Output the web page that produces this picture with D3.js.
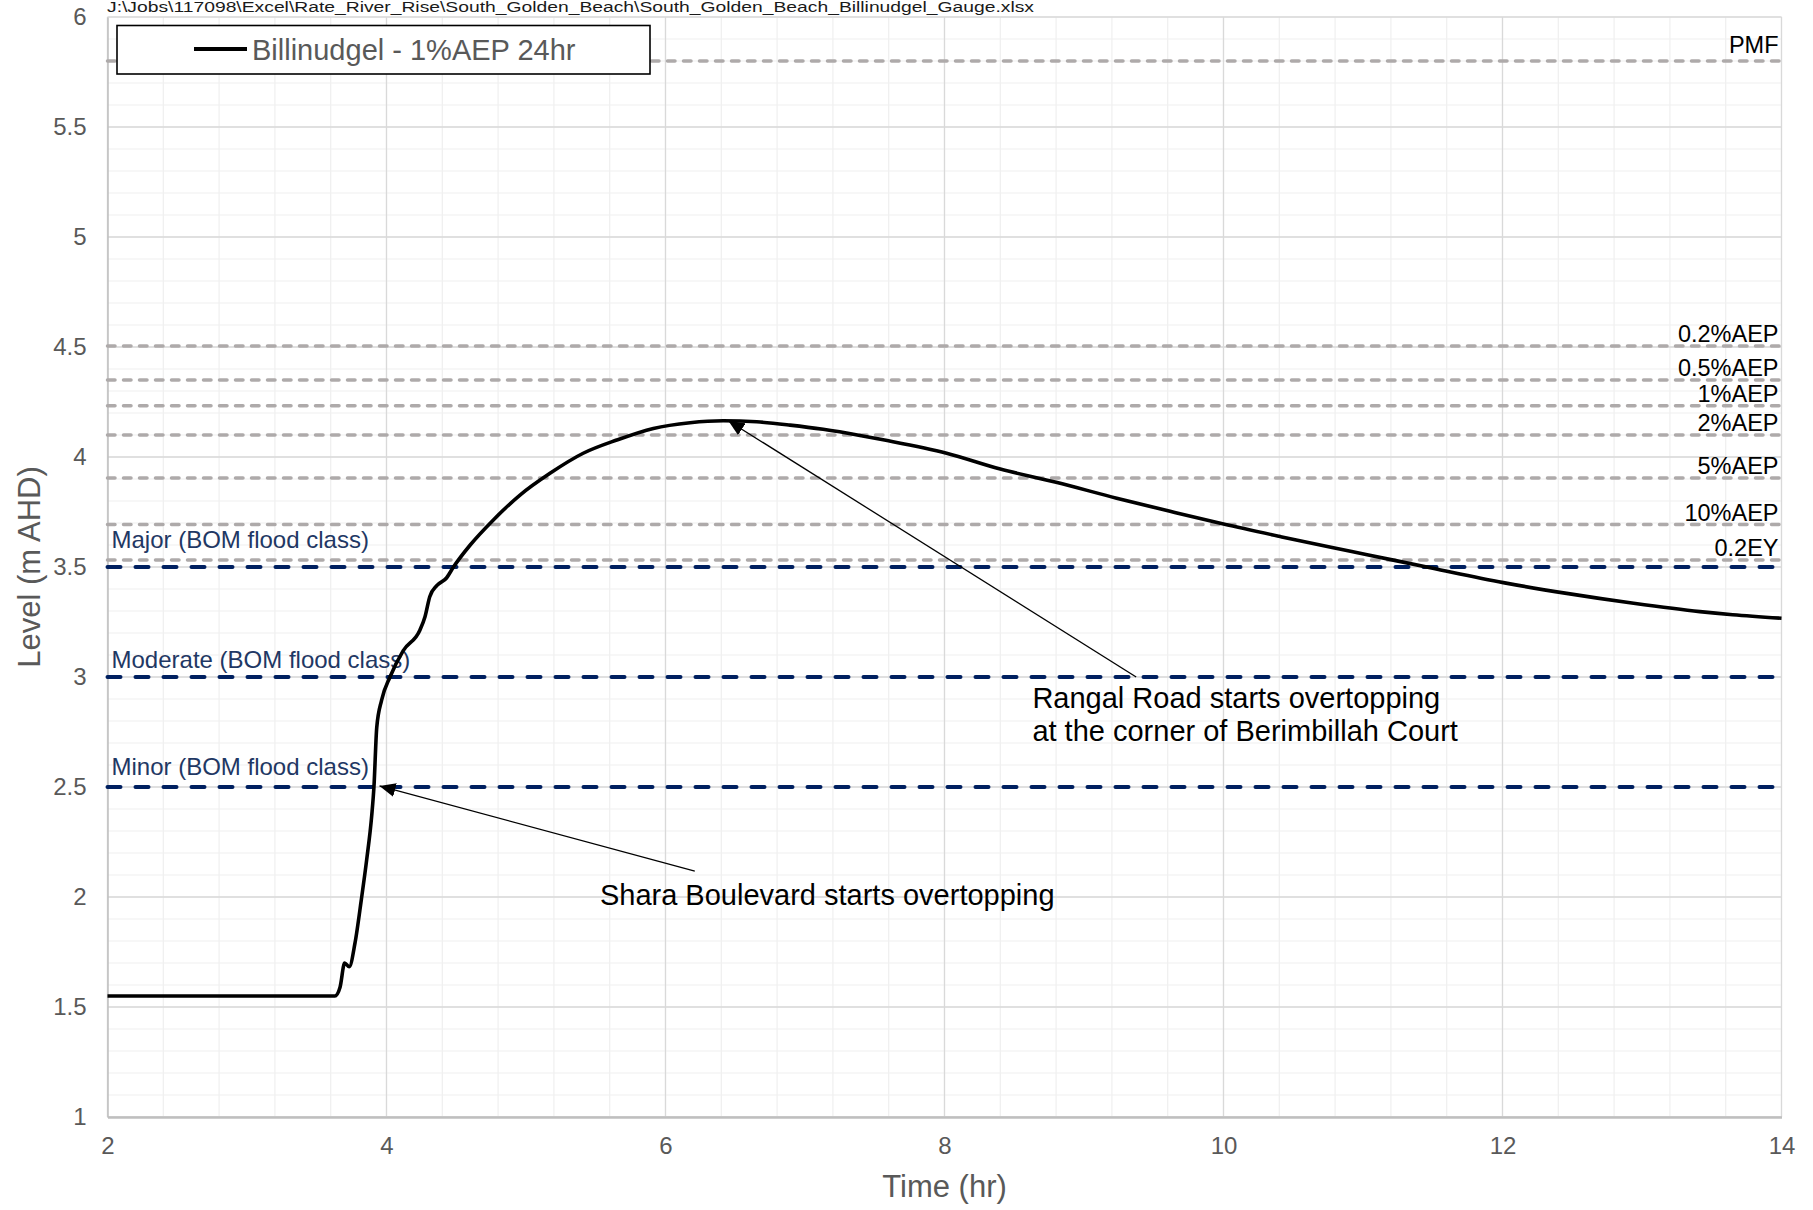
<!DOCTYPE html>
<html>
<head>
<meta charset="utf-8">
<script src="https://cdn.jsdelivr.net/npm/d3@7"></script>
<style>
  body { margin: 0; background: #fff; }
  svg { display: block; font-family: "Liberation Sans", Arial, sans-serif; }
</style>
</head>
<body>
<div id="chart"></div>
<script>
// Hydrograph (time in hr, level in m AHD)
const TIME_HR = [2.0, 3.63, 3.667, 3.70, 3.733, 3.774, 3.82, 3.858, 3.894, 3.91, 3.93, 3.965,
  4.025, 4.12, 4.24, 4.276, 4.31, 4.36, 4.43, 4.48, 4.60, 4.766, 4.957, 5.172, 5.41, 5.65,
  5.913, 6.176, 6.414, 6.654, 6.893, 7.13, 7.394, 7.56, 8.015, 8.40, 8.80, 9.234, 9.617,
  10.0, 10.41, 10.77, 11.03, 11.50, 12.006, 12.46, 12.94, 13.415, 13.65, 14.0];
const LEVEL_M = [1.55, 1.55, 1.59, 1.70, 1.683, 1.79, 1.99, 2.17, 2.37, 2.50, 2.77, 2.895,
  3.00, 3.12, 3.214, 3.274, 3.365, 3.415, 3.45, 3.50, 3.60, 3.714, 3.827, 3.926, 4.017, 4.077,
  4.13, 4.156, 4.165, 4.16, 4.145, 4.126, 4.098, 4.078, 4.017, 3.945, 3.885, 3.813, 3.753,
  3.695, 3.638, 3.59, 3.556, 3.494, 3.429, 3.38, 3.335, 3.297, 3.283, 3.267];

// Design flood levels (grey dashed)
const DESIGN_LABELS = ["PMF", "0.2%AEP", "0.5%AEP", "1%AEP", "2%AEP", "5%AEP", "10%AEP", "0.2EY"];
const DESIGN_LEVELS = [5.8, 4.505, 4.35, 4.233, 4.10, 3.904, 3.693, 3.532];

// BOM flood classes (navy dashed)
const BOM_LABELS = ["Major (BOM flood class)", "Moderate (BOM flood class)", "Minor (BOM flood class)"];
const BOM_LEVELS = [3.5, 3.0, 2.5];

const X_TICKS = [2, 4, 6, 8, 10, 12, 14];
const Y_TICKS = [1, 1.5, 2, 2.5, 3, 3.5, 4, 4.5, 5, 5.5, 6];

// Annotations: text anchor and arrow (from -> to) in data units
const NOTE_TEXTS = [
  ["Rangal Road starts overtopping", "at the corner of Berimbillah Court"],
  ["Shara Boulevard starts overtopping"]
];
const NOTE_TEXT_AT = [[8.63, 2.859], [5.53, 1.964]];
const NOTE_ARROW_FROM = [[9.374, 3.0], [6.21, 2.118]];
const NOTE_ARROW_TO = [[6.45, 4.165], [3.95, 2.505]];

const FILE_PATH = "J:\\Jobs\\117098\\Excel\\Rate_River_Rise\\South_Golden_Beach\\South_Golden_Beach_Billinudgel_Gauge.xlsx";
const SERIES_NAME = "Billinudgel - 1%AEP 24hr";

const WIDTH = 1813, HEIGHT = 1210;
const PLOT = { left: 107.5, right: 1781.5, top: 17, bottom: 1117 };

const svg = d3.select("#chart").append("svg")
  .attr("width", WIDTH).attr("height", HEIGHT)
  .attr("viewBox", `0 0 ${WIDTH} ${HEIGHT}`);

const x = d3.scaleLinear().domain([2, 14]).range([PLOT.left, PLOT.right]);
const y = d3.scaleLinear().domain([1, 6]).range([PLOT.bottom, PLOT.top]);

svg.append("defs").append("marker")
  .attr("id", "arrowhead")
  .attr("viewBox", "0 0 16 14")
  .attr("refX", 16).attr("refY", 7)
  .attr("markerWidth", 16).attr("markerHeight", 14)
  .attr("markerUnits", "userSpaceOnUse")
  .attr("orient", "auto")
  .append("path").attr("d", "M0,0 L16,7 L0,14 Z").attr("fill", "#000");

// —— Gridlines ——
const grid = svg.append("g").attr("class", "grid");
const minorX = d3.range(0, 31).map((i) => 2 + i * 0.4);
const minorY = d3.range(0, 51).map((i) => 1 + i * 0.1);

grid.selectAll(".minor-x").data(minorX).join("line")
  .attr("x1", (d) => x(d)).attr("x2", (d) => x(d))
  .attr("y1", PLOT.top).attr("y2", PLOT.bottom)
  .attr("stroke", "#efefef").attr("stroke-width", 1.2);

grid.selectAll(".minor-y").data(minorY).join("line")
  .attr("x1", PLOT.left).attr("x2", PLOT.right)
  .attr("y1", (d) => y(d)).attr("y2", (d) => y(d))
  .attr("stroke", "#efefef").attr("stroke-width", 1.2);

grid.selectAll(".major-x").data(X_TICKS).join("line")
  .attr("x1", (d) => x(d)).attr("x2", (d) => x(d))
  .attr("y1", PLOT.top).attr("y2", PLOT.bottom)
  .attr("stroke", "#d9d9d9").attr("stroke-width", 1.3);

grid.selectAll(".major-y").data(Y_TICKS).join("line")
  .attr("x1", PLOT.left).attr("x2", PLOT.right)
  .attr("y1", (d) => y(d)).attr("y2", (d) => y(d))
  .attr("stroke", "#d9d9d9").attr("stroke-width", 1.3);

// —— Axes ——
const xAxis = svg.append("g")
  .attr("transform", `translate(0,${PLOT.bottom})`)
  .call(d3.axisBottom(x).tickValues(X_TICKS).tickSize(0).tickPadding(20).tickFormat(d3.format("d")));
xAxis.select(".domain").attr("stroke", "#bfbfbf").attr("stroke-width", 2.5);
xAxis.selectAll("text").attr("font-size", 24).attr("fill", "#595959")
  .attr("font-family", "Liberation Sans, Arial, sans-serif");

const yAxis = svg.append("g")
  .attr("transform", `translate(${PLOT.left},0)`)
  .call(d3.axisLeft(y).tickValues(Y_TICKS).tickSize(0).tickPadding(21).tickFormat((d) => String(d)));
yAxis.select(".domain").attr("stroke", "#bfbfbf").attr("stroke-width", 1.5);
yAxis.selectAll("text").attr("font-size", 24).attr("fill", "#595959")
  .attr("font-family", "Liberation Sans, Arial, sans-serif");

svg.append("text")
  .attr("x", (PLOT.left + PLOT.right) / 2).attr("y", 1197)
  .attr("text-anchor", "middle").attr("font-size", 31).attr("fill", "#595959")
  .text("Time (hr)");

svg.append("text")
  .attr("transform", `translate(40,${(PLOT.top + PLOT.bottom) / 2}) rotate(-90)`)
  .attr("text-anchor", "middle").attr("font-size", 31).attr("fill", "#595959")
  .text("Level (m AHD)");

// —— Design flood levels ——
const design = svg.append("g").attr("class", "design-levels");
design.selectAll("line").data(DESIGN_LEVELS).join("line")
  .attr("x1", PLOT.left).attr("x2", PLOT.right)
  .attr("y1", (d) => y(d)).attr("y2", (d) => y(d))
  .attr("stroke", "#aeaaaa").attr("stroke-width", 3.5)
  .attr("stroke-dasharray", "7.5,8.5").attr("stroke-linecap", "round");

design.selectAll("text").data(DESIGN_LABELS).join("text")
  .attr("x", PLOT.right - 3)
  .attr("y", (d, i) => y(DESIGN_LEVELS[i]) - (i === 0 ? 8 : 4))
  .attr("text-anchor", "end").attr("font-size", 23.5).attr("fill", "#000")
  .text((d) => d);

// —— BOM flood classes ——
const bom = svg.append("g").attr("class", "bom-levels");
bom.selectAll("line").data(BOM_LEVELS).join("line")
  .attr("x1", PLOT.left).attr("x2", PLOT.right)
  .attr("y1", (d) => y(d)).attr("y2", (d) => y(d))
  .attr("stroke", "#002060").attr("stroke-width", 4)
  .attr("stroke-dasharray", "13,15").attr("stroke-linecap", "round");

const BOM_DY = [19, 9, 12];
bom.selectAll("text").data(BOM_LABELS).join("text")
  .attr("x", PLOT.left + 4)
  .attr("y", (d, i) => y(BOM_LEVELS[i]) - BOM_DY[i])
  .attr("font-size", 24).attr("fill", "#1f3864")
  .text((d) => d);

// —— Annotations (drawn under the curve) ——
const notes = svg.append("g").attr("class", "notes");
NOTE_ARROW_FROM.forEach((from, i) => {
  const to = NOTE_ARROW_TO[i];
  notes.append("line")
    .attr("x1", x(from[0])).attr("y1", y(from[1]))
    .attr("x2", x(to[0])).attr("y2", y(to[1]))
    .attr("stroke", "#000").attr("stroke-width", 1.3)
    .attr("marker-end", "url(#arrowhead)");
});

NOTE_TEXTS.forEach((lines, i) => {
  const t = notes.append("text")
    .attr("x", x(NOTE_TEXT_AT[i][0])).attr("y", y(NOTE_TEXT_AT[i][1]))
    .attr("font-size", 29).attr("fill", "#000");
  lines.forEach((line, j) => {
    t.append("tspan").attr("x", x(NOTE_TEXT_AT[i][0])).attr("dy", j === 0 ? 0 : 33).text(line);
  });
});

// —— Hydrograph ——
const series = TIME_HR.map((t, i) => ({ t, level: LEVEL_M[i] }));
const line = d3.line()
  .curve(d3.curveMonotoneX)
  .x((d) => x(d.t))
  .y((d) => y(d.level));

svg.append("path")
  .datum(series)
  .attr("fill", "none")
  .attr("stroke", "#000")
  .attr("stroke-width", 3.6)
  .attr("stroke-linejoin", "round")
  .attr("d", line);

// —— Legend ——
const legend = svg.append("g").attr("class", "legend");
legend.append("rect")
  .attr("x", 117).attr("y", 25.5).attr("width", 533).attr("height", 48.5)
  .attr("fill", "#fff").attr("stroke", "#000").attr("stroke-width", 1.6);
legend.append("line")
  .attr("x1", 194).attr("x2", 247).attr("y1", 49).attr("y2", 49)
  .attr("stroke", "#000").attr("stroke-width", 4);
legend.append("text")
  .attr("x", 252).attr("y", 59.5)
  .attr("font-size", 29).attr("fill", "#595959")
  .text(SERIES_NAME);

// —— File path header ——
svg.append("text")
  .attr("x", 107).attr("y", 12)
  .attr("font-size", 14).attr("fill", "#1a1a1a")
  .attr("textLength", 927).attr("lengthAdjust", "spacingAndGlyphs")
  .text(FILE_PATH);
</script>
</body>
</html>
